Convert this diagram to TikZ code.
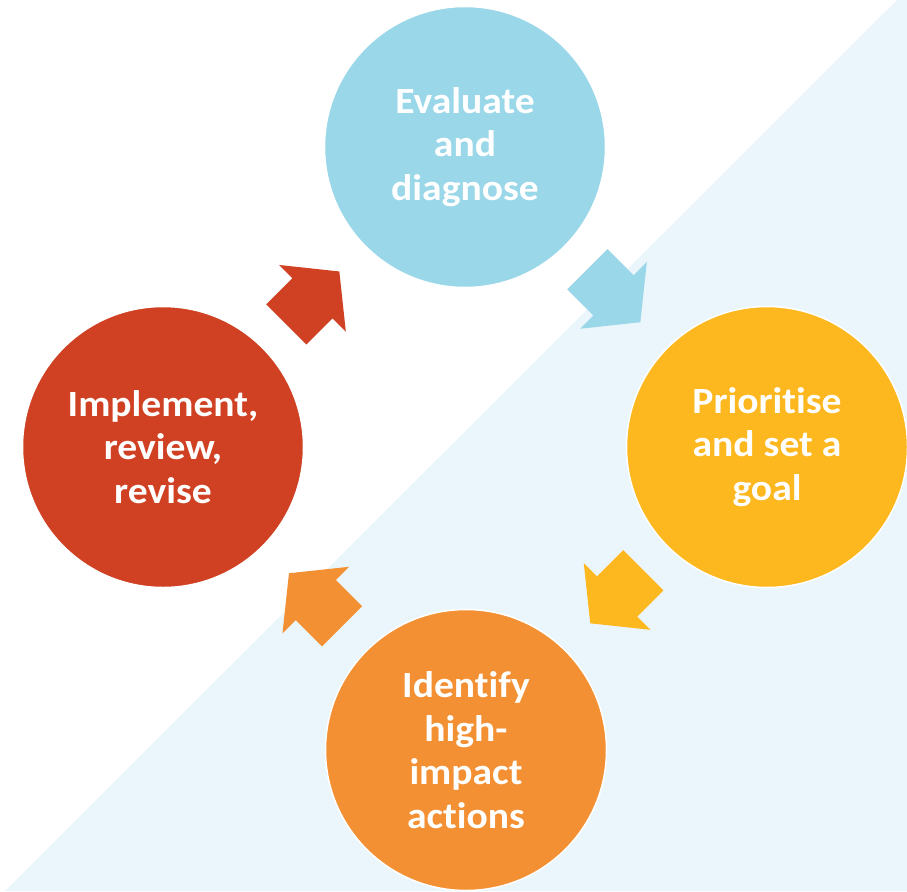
\documentclass[tikz,border=0pt]{standalone}
\usepackage{fontspec}
\setmainfont{Carlito}[Ligatures=NoCommon, FakeStretch=1.07]
\definecolor{bgblue}{HTML}{EBF6FC}
\definecolor{cblue}{HTML}{99D7E9}
\definecolor{cyellow}{HTML}{FDB71F}
\definecolor{corange}{HTML}{F39033}
\definecolor{cred}{HTML}{D04123}
\tikzset{
  stage/.style={circle, minimum size=281pt, inner sep=0pt, draw=white, line width=1.5pt,
    text=white, align=center, font=\fontsize{37}{43.5}\selectfont\bfseries},
  blockarrow/.pic={
    \fill (0,-28.4) -- (37,-28.4) -- (37,-47.2) -- (75,0) -- (37,47.2) -- (37,28.4) -- (0,28.4) -- cycle;
  }
}
\begin{document}
\begin{tikzpicture}[x=1pt,y=-1pt]
\useasboundingbox (0,0) rectangle (907,891);
\fill[white] (0,0) rectangle (907,891);
\fill[bgblue] (897,0) -- (907,0) -- (907,891) -- (5,891) -- cycle;

\node[stage, fill=cblue] (eval) at (465,147) {Evaluate\\and\\diagnose};
\node[stage, fill=cyellow] (prio) at (767,447) {Prioritise\\and set a\\goal};
\node[stage, fill=corange] (ident) at (466,750) {Identify\\high-\\impact\\actions};
\node[stage, fill=cred] (impl) at (163,447) {Implement,\\review,\\revise};

\pic[cblue, shift={(587.3,269.2)}, rotate=-45] {blockarrow};
\pic[cyellow, shift={(643.3,570.3)}, rotate=-135] {blockarrow};
\pic[corange, shift={(342,626.3)}, rotate=135] {blockarrow};
\pic[cred, shift={(286.3,324.5)}, rotate=45] {blockarrow};
\end{tikzpicture}
\end{document}
